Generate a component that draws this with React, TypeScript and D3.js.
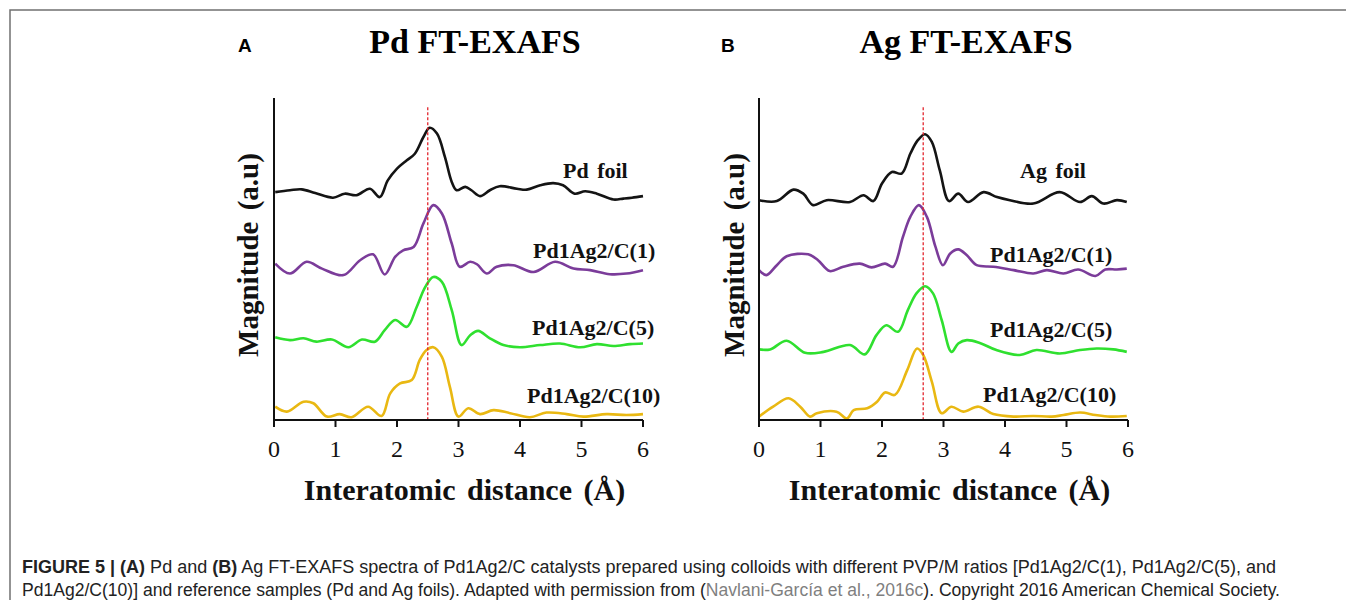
import React from 'react';
import * as d3 from 'd3';

// x in Angstrom, y in arbitrary units (curves are stacked with offsets)
const xTicks = [0, 1, 2, 3, 4, 5, 6];
const seriesNames = ['foil', 'Pd1Ag2/C(1)', 'Pd1Ag2/C(5)', 'Pd1Ag2/C(10)'];
const seriesColors = ['#141414', '#7b3c9a', '#2fe02f', '#e9b812'];

const pdFoil: [number, number][] = [
  [0.02, 73.6], [0.26, 74.2], [0.45, 74.5], [0.67, 73.3], [0.96, 71.8], [1.15, 73.1],
  [1.34, 72.6], [1.56, 74.7], [1.72, 72.0], [1.85, 77.4], [2.0, 81.2], [2.16, 83.9],
  [2.29, 86.0], [2.43, 91.4], [2.53, 94.4], [2.65, 92.5], [2.78, 84.9], [2.89, 76.9],
  [2.97, 74.2], [3.11, 75.3], [3.21, 74.2], [3.35, 72.3], [3.51, 74.2], [3.67, 75.5],
  [3.95, 74.7], [4.11, 74.4], [4.33, 75.8], [4.54, 76.5], [4.7, 75.8], [4.89, 73.1],
  [5.06, 73.9], [5.25, 73.1], [5.52, 71.2], [5.68, 71.5], [5.82, 71.8], [6.0, 72.3],
];
const pdC1: [number, number][] = [
  [0.02, 50.5], [0.26, 47.3], [0.53, 51.1], [0.78, 48.9], [1.13, 46.8], [1.4, 51.6],
  [1.61, 53.5], [1.8, 47.0], [1.97, 52.7], [2.1, 54.8], [2.27, 55.9], [2.43, 63.5],
  [2.59, 69.4], [2.73, 66.7], [2.89, 57.0], [3.02, 49.5], [3.19, 51.1], [3.3, 50.3],
  [3.46, 47.3], [3.62, 49.5], [3.89, 50.0], [4.22, 47.8], [4.57, 51.1], [4.87, 48.9],
  [5.14, 48.4], [5.46, 47.1], [5.73, 47.3], [6.0, 48.4],
];
const pdC5: [number, number][] = [
  [0.02, 26.7], [0.26, 25.8], [0.48, 26.4], [0.69, 25.3], [0.94, 26.0], [1.21, 23.5],
  [1.43, 26.0], [1.64, 25.3], [1.8, 29.0], [1.97, 32.3], [2.16, 30.1], [2.32, 36.5],
  [2.46, 43.0], [2.59, 46.2], [2.73, 44.6], [2.89, 35.5], [3.05, 24.2], [3.19, 27.4],
  [3.32, 28.8], [3.51, 26.4], [3.73, 24.2], [4.0, 23.5], [4.33, 24.2], [4.65, 24.7],
  [4.98, 23.5], [5.25, 24.5], [5.52, 23.9], [5.79, 24.5], [6.0, 24.7],
];
const pdC10: [number, number][] = [
  [0.02, 4.3], [0.21, 2.7], [0.48, 5.9], [0.64, 5.4], [0.86, 1.1], [1.07, 1.9],
  [1.26, 0.9], [1.53, 4.3], [1.75, 1.3], [1.89, 8.6], [2.05, 11.8], [2.24, 12.9],
  [2.37, 19.4], [2.48, 22.6], [2.59, 23.5], [2.73, 20.4], [2.86, 10.7], [3.0, 1.1],
  [3.16, 3.8], [3.35, 1.9], [3.57, 3.2], [3.84, 2.2], [4.16, 0.9], [4.43, 2.4],
  [4.76, 1.9], [5.03, 1.1], [5.41, 1.9], [5.73, 1.6], [6.0, 1.9],
];

const agFoil: [number, number][] = [
  [0.0, 71.0], [0.29, 70.7], [0.56, 74.4], [0.72, 73.1], [0.88, 69.4], [1.1, 71.0],
  [1.48, 70.4], [1.7, 72.6], [1.86, 70.7], [2.0, 76.4], [2.16, 80.1], [2.32, 79.6],
  [2.46, 86.0], [2.58, 90.3], [2.7, 92.3], [2.81, 89.8], [2.94, 80.6], [3.09, 70.7],
  [3.24, 73.1], [3.4, 70.4], [3.65, 73.6], [3.87, 72.0], [4.08, 71.0], [4.46, 69.9],
  [4.89, 73.6], [5.22, 70.4], [5.41, 72.3], [5.6, 69.9], [5.82, 71.0], [5.98, 70.4],
];
const agC1: [number, number][] = [
  [0.0, 48.4], [0.12, 46.8], [0.29, 50.0], [0.45, 52.9], [0.8, 53.5], [0.96, 51.6],
  [1.15, 48.1], [1.37, 49.5], [1.64, 50.5], [1.83, 49.3], [2.05, 50.5], [2.18, 49.5],
  [2.34, 59.1], [2.46, 65.6], [2.6, 69.4], [2.73, 65.6], [2.87, 55.9], [2.99, 50.0],
  [3.11, 53.8], [3.24, 55.1], [3.38, 53.2], [3.54, 50.0], [3.81, 49.5], [4.14, 48.4],
  [4.46, 47.3], [4.68, 48.4], [4.95, 47.3], [5.19, 48.6], [5.47, 46.5], [5.63, 48.6],
  [5.82, 48.6], [5.98, 48.9],
];
const agC5: [number, number][] = [
  [0.0, 22.8], [0.18, 22.8], [0.45, 25.6], [0.75, 21.7], [1.05, 22.0], [1.48, 24.2],
  [1.72, 21.2], [1.91, 27.4], [2.07, 30.6], [2.26, 28.5], [2.42, 35.5], [2.56, 40.9],
  [2.7, 43.2], [2.83, 40.9], [2.97, 32.3], [3.13, 22.0], [3.24, 24.7], [3.38, 25.8],
  [3.59, 24.9], [3.86, 22.6], [4.24, 21.0], [4.51, 22.6], [4.89, 21.5], [5.22, 22.6],
  [5.49, 23.1], [5.76, 22.8], [5.98, 22.0],
];
const agC10: [number, number][] = [
  [0.0, 1.1], [0.23, 4.3], [0.48, 7.0], [0.67, 4.3], [0.83, 1.1], [0.94, 2.2],
  [1.26, 2.7], [1.43, 0.5], [1.54, 3.2], [1.76, 3.8], [1.92, 5.9], [2.05, 8.9],
  [2.21, 8.1], [2.41, 16.1], [2.57, 23.1], [2.67, 21.0], [2.81, 12.4], [2.97, 2.2],
  [3.13, 4.3], [3.32, 2.7], [3.57, 4.3], [3.81, 1.9], [4.14, 1.1], [4.46, 1.3],
  [4.76, 1.1], [4.95, 1.6], [5.22, 2.4], [5.47, 1.6], [5.71, 1.1], [5.98, 1.3],
];

const pdPeak = 2.5;
const agPeak = 2.67;

const serif = '"Liberation Serif", "Times New Roman", serif';
const sans = '"Liberation Sans", Arial, sans-serif';

type PanelProps = {
  left: number;
  letter: string;
  letterX: number;
  title: string;
  titleX: number;
  element: string;
  series: [number, number][][];
  peak: number;
  labelPos: [number, number][];
  yLabelX: number;
};

function Panel(props: PanelProps) {
  const x = d3.scaleLinear().domain([0, 6]).range([props.left, props.left + 369]);
  const y = d3.scaleLinear().domain([0, 104]).range([420, 98]);
  const line = d3
    .line<[number, number]>()
    .x((d) => x(d[0]))
    .y((d) => y(d[1]))
    .curve(d3.curveCatmullRom.alpha(0.5));

  return (
    <g>
      <text x={props.letterX} y={52} fontFamily={sans} fontWeight="bold" fontSize={19}>
        {props.letter}
      </text>
      <text x={props.titleX} y={53} textAnchor="middle" fontFamily={serif} fontWeight="bold" fontSize={34}>
        {props.title}
      </text>

      {props.series.map((s, i) => (
        <path key={i} d={line(s) || ''} fill="none" stroke={seriesColors[i]} strokeWidth={2.6} strokeLinejoin="round" />
      ))}

      <line x1={x(props.peak)} x2={x(props.peak)} y1={y(101)} y2={y(0)} stroke="#e3262e" strokeWidth={1.3} strokeDasharray="3,2" />

      {/* axes */}
      <line x1={x(0)} x2={x(0)} y1={y(104)} y2={y(0) + 7} stroke="#111" strokeWidth={2} />
      <line x1={x(0)} x2={x(6)} y1={y(0)} y2={y(0)} stroke="#111" strokeWidth={2} />
      {xTicks.map((t) => (
        <g key={t}>
          <line x1={x(t)} x2={x(t)} y1={y(0)} y2={y(0) + 7} stroke="#111" strokeWidth={2} />
          <text x={x(t)} y={457} textAnchor="middle" fontFamily={serif} fontSize={24} fill="#111">
            {t}
          </text>
        </g>
      ))}

      <text x={x(3) + 6} y={500} textAnchor="middle" fontFamily={serif} fontWeight="bold" fontSize={30} wordSpacing={4} fill="#111">
        Interatomic distance (Å)
      </text>
      <text
        transform={`translate(${props.yLabelX},255) rotate(-90)`}
        textAnchor="middle"
        fontFamily={serif}
        fontWeight="bold"
        fontSize={29}
        wordSpacing={4}
        fill="#111"
      >
        Magnitude (a.u)
      </text>

      {seriesNames.map((n, i) => (
        <text key={n} x={props.labelPos[i][0]} y={props.labelPos[i][1]} fontFamily={serif} fontWeight="bold" fontSize={22} wordSpacing={3} fill="#111">
          {i === 0 ? props.element + ' foil' : n}
        </text>
      ))}
    </g>
  );
}

export default function App() {
  return (
    <svg width={1346} height={600} style={{ position: 'absolute', left: 0, top: 0, background: '#fff' }}>
      <rect width={1346} height={600} fill="#fff" />
      <path d="M10,600 V10 H1346" fill="none" stroke="#707070" strokeWidth={1.5} />

      <Panel
        left={274}
        letter="A"
        letterX={238}
        title="Pd FT-EXAFS"
        titleX={475}
        element="Pd"
        series={[pdFoil, pdC1, pdC5, pdC10]}
        peak={pdPeak}
        labelPos={[[563, 178], [533, 258], [532, 335], [527, 403]]}
        yLabelX={258}
      />
      <Panel
        left={759}
        letter="B"
        letterX={721}
        title="Ag FT-EXAFS"
        titleX={966}
        element="Ag"
        series={[agFoil, agC1, agC5, agC10]}
        peak={agPeak}
        labelPos={[[1020, 178], [990, 262], [990, 337], [983, 402]]}
        yLabelX={744}
      />

      <text x={22} y={573} fontFamily={sans} fontSize={17.5} fill="#222" textLength={1254} lengthAdjust="spacingAndGlyphs">
        <tspan fontWeight="bold">FIGURE 5 | (A)</tspan> Pd and <tspan fontWeight="bold">(B)</tspan> Ag FT-EXAFS spectra of
        Pd1Ag2/C catalysts prepared using colloids with different PVP/M ratios [Pd1Ag2/C(1), Pd1Ag2/C(5), and
      </text>
      <text x={22} y={596} fontFamily={sans} fontSize={17.5} fill="#222" textLength={1258} lengthAdjust="spacingAndGlyphs">
        Pd1Ag2/C(10)] and reference samples (Pd and Ag foils). Adapted with permission from (
        <tspan fill="#7f7f7f">Navlani-García et al., 2016c</tspan>). Copyright 2016 American Chemical Society.
      </text>
    </svg>
  );
}
